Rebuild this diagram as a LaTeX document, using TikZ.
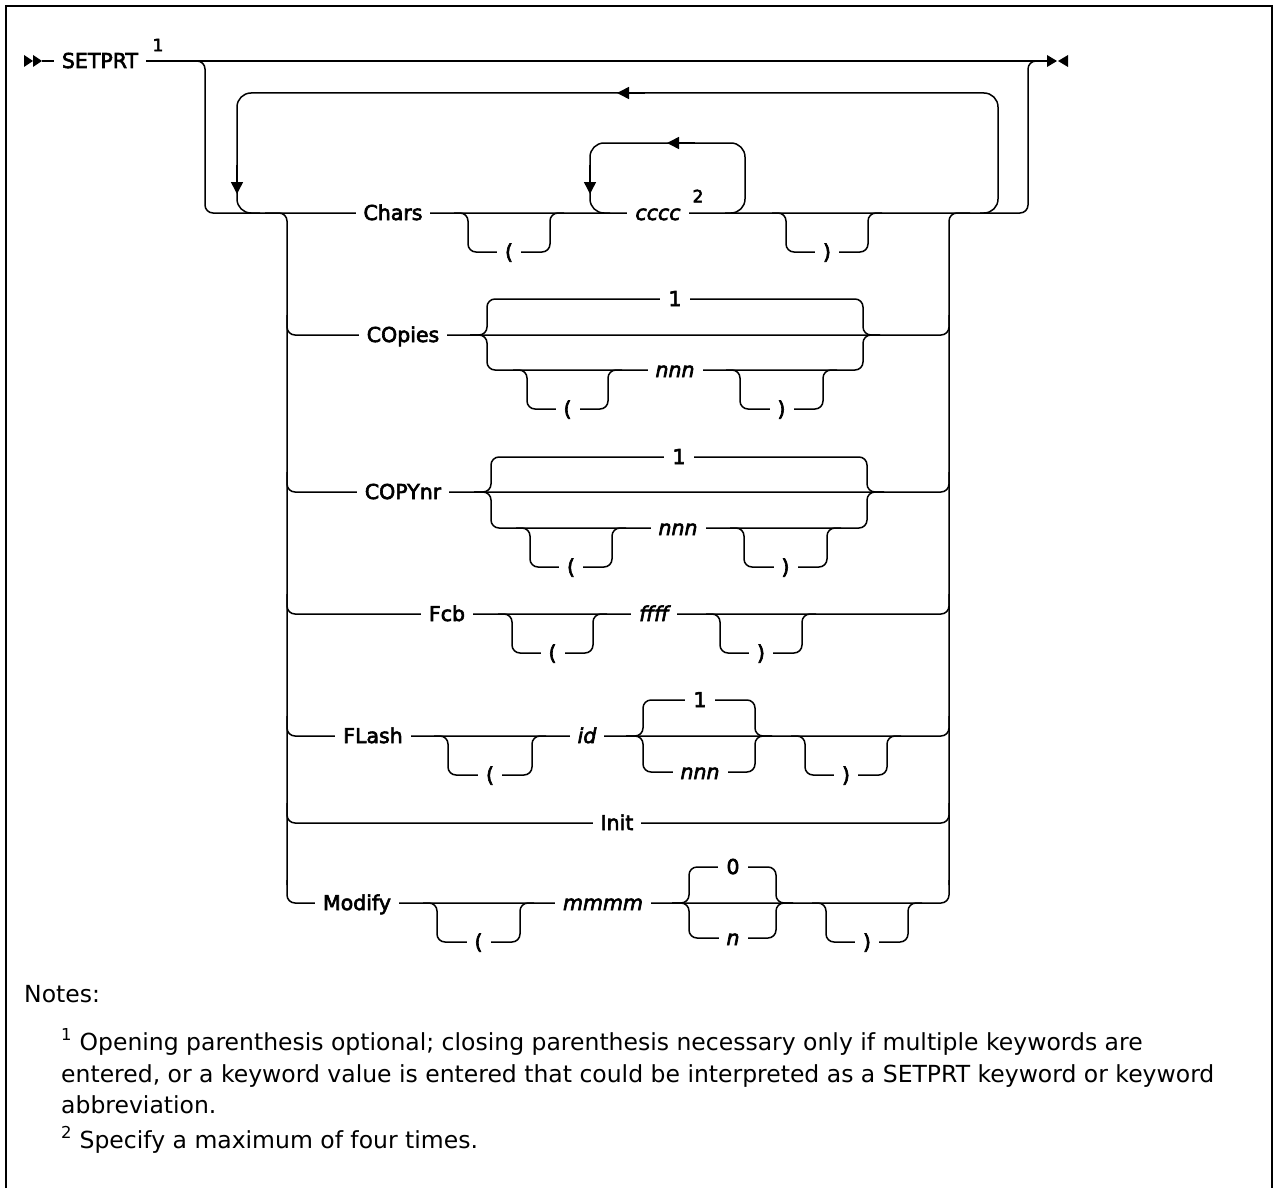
\documentclass[tikz,border=0pt]{standalone}
\usepackage{fontspec}
\setmainfont{DejaVu Sans}
\newfontfamily\railfont{DejaVu Sans}[FakeBold=3]
\usetikzlibrary{arrows.meta}

\tikzset{
  rail/.style={line width=1.5pt, rounded corners=8pt},
  repeatrail/.style={rail, rounded corners=14pt},
  backarrow/.style={-{Triangle[length=12pt,width=12pt]}, line width=1.5pt},
  kw/.style={font=\railfont\fontsize{20.5}{24}\selectfont, fill=white, inner xsep=8pt, inner ysep=1pt, text height=14pt, text depth=0pt},
  var/.style={kw, font=\railfont\fontsize{20.5}{24}\selectfont\itshape},
  fnmark/.style={font=\railfont\fontsize{17}{18}\selectfont, inner sep=0pt},
  notetext/.style={font=\fontsize{23.5}{28}\selectfont, anchor=base west, inner sep=0pt},
}

\begin{document}
\begin{tikzpicture}[x=1pt,y=-1pt]
\useasboundingbox (0,0) rectangle (1273,1188);

% frame
\draw[line width=2pt] (6,1188) -- (6,6) -- (1272,6) -- (1272,1188);

% main line
\node[kw] (setprt) at (100,61) {SETPRT};
\node[fnmark] (fn1) at (158,45) {1};
\coordinate (stop) at (1047,61);
\fill (24,55) -- (33,61) -- (24,67) -- cycle;
\fill (33,55) -- (42,61) -- (33,67) -- cycle;
\draw[rail] (42,61) -- (setprt.west);
\draw[rail] (setprt.east) -- (stop);
\fill (1047,55) -- (1057,61) -- (1047,67) -- cycle;
\fill (1068,55) -- (1058,61) -- (1068,67) -- cycle;

% keyword group below the main line
\draw[rail] (190,61) -| (205,213) -| (1028,61) -- (1040,61);

% repeat of the keywords
\draw[repeatrail] (980,213) -| (998,93) -| (237,213) -- (260,213);
\draw[backarrow] (645,93) -- (617,93);
\draw[backarrow] (237,165) -- (237,194);

% repeat of cccc
\draw[repeatrail] (725,213) -| (745,143) -| (590,213) -- (610,213);
\draw[backarrow] (695,143) -- (667,143);
\draw[backarrow] (590,165) -- (590,194);

% stack of choices
\draw[rail] (265,213) -| (287,885);
\draw[rail] (949,885) |- (970,213);
\foreach \yy in {335,492,614,736,823}
  \draw[rail] (287,\yy-20) |- (949,\yy) -- (949,\yy-20);
\draw[rail] (287,880) |- (949,903) -- (949,880);

% COpies and COPYnr values
\draw[rail] (470,335) -| (487,299) -| (863,335) -- (880,335);
\draw[rail] (470,335) -| (487,370) -| (863,335) -- (880,335);
\draw[rail] (474,492) -| (491,457) -| (867,492) -- (884,492);
\draw[rail] (474,492) -| (491,528) -| (867,492) -- (884,492);

% FLash and Modify values
\draw[rail] (626,736) -| (643,700) -| (755,736) -- (772,736);
\draw[rail] (626,736) -| (643,772) -| (755,736) -- (772,736);
\draw[rail] (672,903) -| (689,867) -| (776,903) -- (793,903);
\draw[rail] (672,903) -| (689,938) -| (776,903) -- (793,903);

% optional parentheses
\foreach \xa/\xb/\yy/\lbl/\nm in {
    468/550/213/{(}/chopen, 786/868/213/{)}/chclose,
    527/608/370/{(}/cpopen, 740/823/370/{)}/cpclose,
    530/612/528/{(}/cyopen, 744/827/528/{)}/cyclose,
    512/593/614/{(}/fcopen, 720/802/614/{)}/fcclose,
    448/532/736/{(}/flopen, 805/887/736/{)}/flclose,
    437/520/903/{(}/moopen, 826/908/903/{)}/moclose}
{
  \draw[rail] (\xa-14,\yy) -| (\xa,\yy+39) -| (\xb,\yy) -- (\xb+14,\yy);
  \node[kw] (\nm) at ({(\xa+\xb)/2},\yy+39) {\lbl};
}

% keywords and values
\node[kw] (chars) at (393,213) {Chars};
\node[var] (cccc) at (658,213) {cccc};
\node[fnmark] (fn2) at (698,196) {2};

\node[kw] (copies) at (403,335) {COpies};
\node[kw] (cpone) at (675,299) {1};
\node[var] (cpnnn) at (675,370) {nnn};

\node[kw] (copynr) at (403,492) {COPYnr};
\node[kw] (cyone) at (679,457) {1};
\node[var] (cynnn) at (678,528) {nnn};

\node[kw] (fcb) at (447,614) {Fcb};
\node[var] (ffff) at (654,614) {ffff};

\node[kw] (flash) at (373,736) {FLash};
\node[var] (flid) at (587,736) {id};
\node[kw] (flone) at (700,700) {1};
\node[var] (flnnn) at (700,772) {nnn};

\node[kw] (init) at (617,823) {Init};

\node[kw] (modify) at (357,903) {Modify};
\node[var] (mmmm) at (603,903) {mmmm};
\node[kw] (mozero) at (733,867) {0};
\node[var] (mon) at (733,938) {n};

% notes
\node[notetext] (notes) at (24,1002) {Notes:};
\node[notetext] (note1a) at (61,1050) {\textsuperscript{1} Opening parenthesis optional; closing parenthesis necessary only if multiple keywords are};
\node[notetext] (note1b) at (61,1082) {entered, or a keyword value is entered that could be interpreted as a SETPRT keyword or keyword};
\node[notetext] (note1c) at (61,1113) {abbreviation.};
\node[notetext] (note2) at (61,1148) {\textsuperscript{2} Specify a maximum of four times.};

\end{tikzpicture}
\end{document}
